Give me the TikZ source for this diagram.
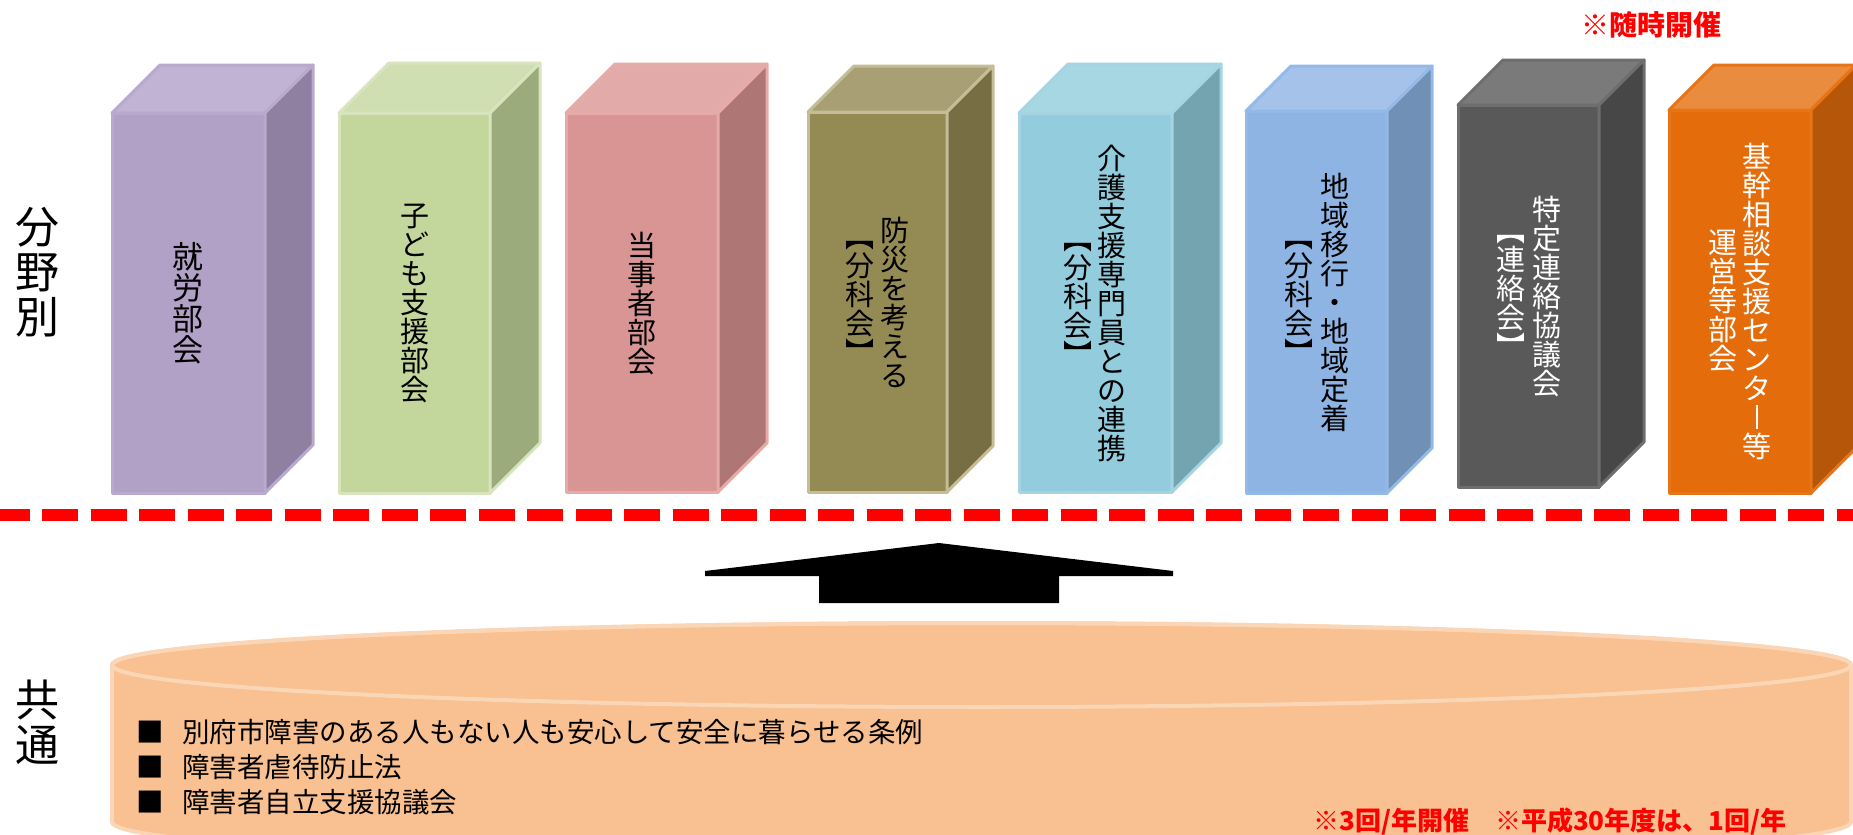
\documentclass[tikz,border=0pt]{standalone}
\usepackage{fontspec}
\newfontfamily\jp{Noto Sans CJK JP}
\definecolor{pF}{HTML}{B2A1C7}\definecolor{pT}{HTML}{C1B3D4}\definecolor{pS}{HTML}{8F80A1}\definecolor{pB}{HTML}{B9A9CD}
\definecolor{gF}{HTML}{C3D69B}\definecolor{gT}{HTML}{D0DFB1}\definecolor{gS}{HTML}{9CAB7B}\definecolor{gB}{HTML}{D7E4BD}
\definecolor{kF}{HTML}{D99594}\definecolor{kT}{HTML}{E2ABAA}\definecolor{kS}{HTML}{AE7776}\definecolor{kB}{HTML}{E6AAA9}
\definecolor{oF}{HTML}{948A54}\definecolor{oT}{HTML}{A89F74}\definecolor{oS}{HTML}{776E43}\definecolor{oB}{HTML}{C4BD97}
\definecolor{lF}{HTML}{93CDDD}\definecolor{lT}{HTML}{A8D7E4}\definecolor{lS}{HTML}{75A4B1}\definecolor{lB}{HTML}{A5D5E2}
\definecolor{bF}{HTML}{8EB4E3}\definecolor{bT}{HTML}{A5C3EA}\definecolor{bS}{HTML}{7190B5}\definecolor{bB}{HTML}{95B9E6}
\definecolor{dF}{HTML}{595959}\definecolor{dT}{HTML}{7A7A7A}\definecolor{dS}{HTML}{474747}\definecolor{dB}{HTML}{6E6E6E}
\definecolor{rF}{HTML}{E46C0A}\definecolor{rT}{HTML}{E98C3E}\definecolor{rS}{HTML}{B65608}\definecolor{rB}{HTML}{E87418}
\definecolor{cylF}{HTML}{F9C091}\definecolor{cylB}{HTML}{FBD6B6}
\definecolor{noteRed}{HTML}{FF0000}
\newcommand\prism[9]{%
  \filldraw[face,fill=#6,draw=#9] (#1,#2) rectangle (#3,#4);
  \filldraw[face,fill=#7,draw=#9] (#1,#2) -- (#1+#5,#2-#5) -- (#3+#5,#2-#5) -- (#3,#2) -- cycle;
  \filldraw[face,fill=#8,draw=#9] (#3,#2) -- (#3+#5,#2-#5) -- (#3+#5,#4-#5) -- (#3,#4) -- cycle;
}
\newcommand\vchouon{\makebox[1em]{\rule[-0.02em]{0.07em}{0.8em}}}
\tikzset{
  face/.style={line width=3pt, line join=round},
  vtxt/.style={font=\jp\fontsize{29pt}{29pt}\selectfont, align=center, inner sep=0pt, anchor=center},
  sidelabel/.style={font=\jp\fontsize{44pt}{45pt}\selectfont, align=center, inner sep=0pt},
  listtxt/.style={font=\jp\fontsize{27.5pt}{28pt}\selectfont, inner sep=0pt, anchor=west},
  rednote/.style={font=\jp\bfseries\fontsize{26pt}{26pt}\selectfont, text=noteRed, inner sep=0pt}
}
\begin{document}
\begin{tikzpicture}[x=1pt,y=-1pt]
\useasboundingbox (0,0) rectangle (1853,835);
\clip (0,0) rectangle (1853,835);
% side labels
\node[sidelabel] (bunya) at (37,272) {分\\野\\別};
\node[sidelabel] (kyotsu) at (37,722) {共\\通};
% red note top
\node[rednote,font=\jp\bfseries\fontsize{28pt}{28pt}\selectfont] (zuiji) at (1651,25) {※随時開催};
% prisms
\prism{112}{113}{265}{493}{48}{pF}{pT}{pS}{pB}
\prism{339}{113}{490}{493}{50}{gF}{gT}{gS}{gB}
\prism{566}{113}{718}{492}{49}{kF}{kT}{kS}{kB}
\prism{808}{112}{947}{492}{46}{oF}{oT}{oS}{oB}
\prism{1019}{113}{1172}{492}{49}{lF}{lT}{lS}{lB}
\prism{1246}{111}{1387}{493}{45}{bF}{bT}{bS}{bB}
\prism{1458}{105}{1599}{487}{45}{dF}{dT}{dS}{dB}
\prism{1669}{110}{1811}{493}{45}{rF}{rT}{rS}{rB}
% box texts
\node[vtxt,font=\jp\fontsize{31pt}{31pt}\selectfont] (t1) at (188,303) {就\\労\\部\\会};
\node[vtxt] (t2) at (414.5,303) {子\\ど\\も\\支\\援\\部\\会};
\node[vtxt] (t3) at (642,304) {当\\事\\者\\部\\会};
\node[vtxt] (t4r) at (895,302) {防\\災\\を\\考\\え\\る};
\node[vtxt] (t4l) at (860,302) {︻\\分\\科\\会\\︼};
\node[vtxt] (t5r) at (1112,304) {介\\護\\支\\援\\専\\門\\員\\と\\の\\連\\携};
\node[vtxt] (t5l) at (1078,304) {︻\\分\\科\\会\\︼};
\node[vtxt] (t6r) at (1335,302) {地\\域\\移\\行\\・\\地\\域\\定\\着};
\node[vtxt] (t6l) at (1299,302) {︻\\分\\科\\会\\︼};
\node[vtxt,text=white] (t7r) at (1547,297) {特\\定\\連\\絡\\協\\議\\会};
\node[vtxt,text=white] (t7l) at (1511,296) {︻\\連\\絡\\会\\︼};
\node[vtxt,text=white] (t8r) at (1757,301) {基\\幹\\相\\談\\支\\援\\セ\\ン\\タ\\\vchouon\\等};
\node[vtxt,text=white] (t8l) at (1723,301) {運\\営\\等\\部\\会};
% dashed divider
\draw[noteRed, line width=12pt, dash pattern=on 36pt off 12.5pt] (-6.5,515) -- (1870,515);
% up arrow
\fill[black] (705,571) -- (939,543) -- (1173,571) -- (1173,576) -- (1059,576) -- (1059,603) -- (819,603) -- (819,576) -- (705,576) -- cycle;
% cylinder
\filldraw[fill=cylF, draw=cylB, line width=4pt, line join=round]
  (112,665) -- (112,822) arc[start angle=180, end angle=360, x radius=869.5pt, y radius=42pt]
  -- (1851,665) arc[start angle=0, end angle=180, x radius=869.5pt, y radius=42pt] -- cycle;
\draw[draw=cylB, line width=4pt] (981.5,665) ellipse [x radius=869.5pt, y radius=42pt];
% list
\node[listtxt] (b1) at (136,732) {■};
\node[listtxt] (b2) at (136,767) {■};
\node[listtxt] (b3) at (136,802) {■};
\node[listtxt] (l1) at (182,732) {別府市障害のある人もない人も安心して安全に暮らせる条例};
\node[listtxt] (l2) at (182,767) {障害者虐待防止法};
\node[listtxt] (l3) at (182,802) {障害者自立支援協議会};
% bottom note
\node[rednote,anchor=west] (kaisai) at (1313,822) {※3回/年開催　※平成30年度は、1回/年};
\end{tikzpicture}
\end{document}
